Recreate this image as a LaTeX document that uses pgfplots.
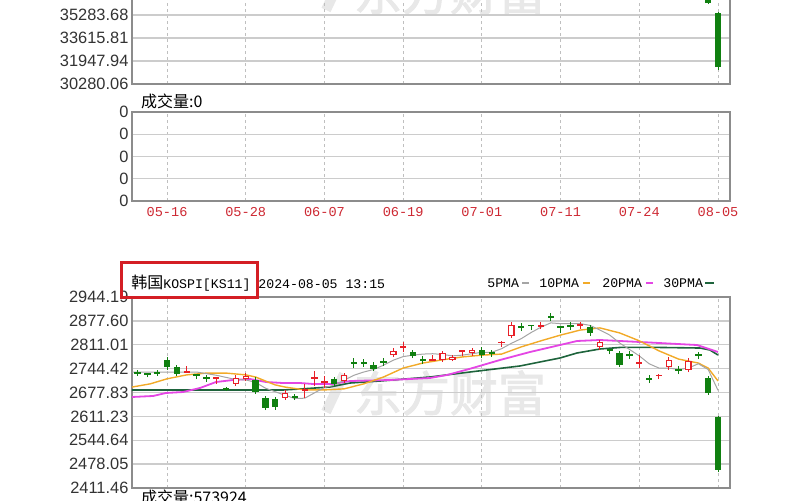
\documentclass[border=0pt]{standalone}
\usepackage{fontspec}
\setmainfont{Liberation Sans}
\newfontfamily\cjk{Noto Sans CJK SC}[AutoFakeBold=2]
\newfontfamily\mono{Liberation Mono}
\usepackage{pgfplots}
\usepackage{pgfplotstable}
\pgfplotsset{compat=1.18}

\definecolor{cup}{RGB}{232,32,40}
\definecolor{cdown}{RGB}{16,128,16}
\definecolor{ma5}{RGB}{165,165,165}
\definecolor{ma10}{RGB}{242,170,40}
\definecolor{ma20}{RGB}{228,70,228}
\definecolor{ma30}{RGB}{30,100,60}
\definecolor{datered}{RGB}{205,40,50}
\definecolor{boxred}{RGB}{212,30,36}
\definecolor{wm}{RGB}{232,232,232}

\pgfplotsset{
  panel/.style={
    scale only axis, width=299pt,
    xmin=-3.56, xmax=57.22,
    xtick={0,8,...,56}, xticklabels={},
    scaled y ticks=false,
    major tick length=0pt,
    axis line style={draw=black!45, line width=0.6pt},
    xmajorgrids, ymajorgrids,
    x grid style={draw=black!25, line width=0.5pt, dash pattern=on 1.5pt off 1.5pt},
    y grid style={draw=black!20, line width=0.7pt},
    yticklabel style={font=\fontsize{8.2}{9}\selectfont, text=black!80, inner sep=0pt, xshift=-1.6pt},
  },
  cbar/.style n args={2}{draw=none, mark=none, forget plot,
    error bars/.cd, y dir=plus, y explicit, error mark=none,
    error bar style={draw=#1, line width=#2, line cap=butt, solid}},
}

% KOSPI daily candles, x = trading day (0 = 05-16)
\pgfplotstableread{
x o h l c
-3 2734 2740 2724 2730
-2 2731 2731 2720 2727
-1 2734 2741 2725 2730
0 2768 2777 2741 2749
1 2749 2754 2724 2729
3 2729 2729 2715 2725
4 2720 2727 2707 2716
6 2690 2693 2682 2686
9 2713 2721 2674 2679
10 2662 2668 2629 2635
11 2660 2665 2630 2637
13 2667 2674 2657 2663
17 2716 2721 2696 2702
19 2762 2774 2746 2758
20 2762 2771 2749 2758
21 2755 2763 2738 2743
22 2765 2774 2752 2761
25 2791 2796 2774 2780
26 2771 2779 2757 2767
32 2796 2805 2774 2782
33 2790 2796 2777 2786
36 2862 2872 2849 2858
37 2867 2867 2852 2863
39 2890 2900 2877 2886
40 2862 2864 2844 2858
41 2865 2874 2852 2861
43 2860 2866 2835 2844
45 2798 2799 2785 2794
46 2788 2794 2749 2755
47 2784 2794 2771 2780
49 2717 2727 2704 2713
52 2742 2752 2729 2738
54 2784 2790 2771 2780
55 2718 2724 2671 2676
56 2610 2612 2456 2462
}\kdown

\pgfplotstableread{
x o h l c
2 2733 2752 2733 2737
5 2716 2721 2702 2720
7 2702 2727 2696 2718
8 2716 2732 2710 2724
12 2663 2685 2657 2677
14 2683 2702 2663 2687
15 2716 2738 2696 2720
16 2705 2724 2691 2709
18 2710 2732 2704 2727
23 2782 2802 2777 2794
24 2803 2819 2791 2807
27 2767 2782 2765 2771
28 2768 2794 2763 2788
29 2768 2782 2765 2777
30 2790 2796 2780 2795
31 2788 2802 2780 2796
34 2816 2821 2805 2820
35 2835 2874 2830 2866
38 2861 2874 2855 2865
42 2864 2874 2855 2868
44 2805 2824 2796 2819
48 2758 2782 2746 2762
50 2724 2729 2715 2728
51 2749 2777 2741 2768
53 2741 2774 2735 2766
}\kup

\pgfplotstableread{
x o h l c
55 37420 37550 36080 36150
56 35430 35480 31300 31510
}\nkdown

\begin{document}
\begin{tikzpicture}

% watermark
\node[text=wm, font=\cjk\bfseries\fontsize{24}{24}\selectfont] at (225pt,53.5pt) {东方财富};
\draw[wm, line width=5pt] (163pt,44pt) -- (172pt,63pt);
\node[text=wm, font=\cjk\bfseries\fontsize{24}{24}\selectfont] at (225pt,254pt) {东方财富};
\draw[wm, line width=5pt] (163pt,245pt) -- (172pt,264pt);

% top price panel (cut off by the page)
\begin{axis}[panel, at={(66pt,208pt)}, anchor=south west, height=95.5pt,
  ymin=30280.06, ymax=44131.4,
  ytick={30280.06,31947.94,33615.81,35283.68},
  yticklabels={30280.06,31947.94,33615.81,35283.68}]
\addplot[cbar={cdown}{0.5pt}] table[x=x, y=l, y error plus expr=\thisrow{h}-\thisrow{l}] {\nkdown};
\addplot[cbar={cdown}{3.2pt}] table[x=x, y=c, y error plus expr=\thisrow{o}-\thisrow{c}] {\nkdown};
\end{axis}

% volume panel
\begin{axis}[panel, at={(66pt,149.5pt)}, anchor=south west, height=44.5pt,
  ymin=0, ymax=4, ytick={0,1,2,3,4}, yticklabels={0,0,0,0,0},
  xticklabels={05-16,05-28,06-07,06-19,07-01,07-11,07-24,08-05},
  xticklabel style={font=\mono\fontsize{6.8}{7}\selectfont, text=datered, inner sep=0pt, yshift=-3pt}]
\end{axis}
\node[anchor=west, font=\cjk\fontsize{8}{9}\selectfont] at (67pt,199.5pt) {成交量:0};

% KOSPI panel
\begin{axis}[panel, at={(66pt,6pt)}, anchor=south west, height=95.5pt,
  ymin=2411.46, ymax=2944.19,
  ytick={2411.46,2478.05,2544.64,2611.23,2677.83,2744.42,2811.01,2877.60,2944.19},
  yticklabels={2411.46,2478.05,2544.64,2611.23,2677.83,2744.42,2811.01,2877.60,2944.19}]

\addplot[ma30, line width=0.8pt] table {
x y
-3.56 2684.8
8.43 2684.8
11.79 2684.8
13.52 2687.6
16.57 2693.2
18.6 2704.3
21.65 2709.9
26.73 2721.1
30.79 2735.0
35.87 2751.8
39.94 2774.1
41.67 2788.0
44.0 2799.2
46.04 2803.5
50.1 2803.5
54.17 2801.9
55.18 2796.4
56 2782.4
};
\addplot[ma20, line width=0.9pt] table {
x y
-3.56 2665.3
-1.42 2668.1
-0.1 2676.5
1.63 2679.2
3.35 2690.4
4.98 2707.1
6.71 2712.7
8.43 2715.5
10.06 2707.1
11.79 2704.3
13.52 2704.3
14.84 2701.6
16.87 2701.6
18.6 2709.9
22.66 2712.7
26.73 2718.3
28.46 2726.7
30.79 2744.0
33.84 2768.5
36.89 2790.8
39.94 2810.3
41.67 2821.5
44.0 2824.3
48.07 2818.7
53.86 2810.3
56 2790.8
};
\addplot[ma10, line width=0.7pt] table {
x y
-3.56 2693
-1.7 2702
0 2716
2 2727
4 2732
6 2732
8 2727
9 2721
10 2710
11 2699
12 2693
14 2685
16 2685
18 2688
20 2702
22 2721
24 2746
26 2760
28 2769
30 2777
32 2782
34 2785
36 2805
38 2822
40 2838
42 2852
44 2858
46 2844
48 2822
50 2794
52 2771
54 2760
55 2746
56 2710
};
\addplot[ma5, line width=0.5pt] table {
x y
-3.56 2735
-1 2735
1 2735
3 2735
5 2726
7 2714
8 2713
9 2706
10 2690
11 2680
12 2670
13 2661
14 2662
15 2677
16 2692
17 2698
18 2712
19 2726
20 2735
21 2742
22 2754
23 2768
24 2778
25 2782
26 2785
27 2786
28 2784
29 2780
30 2782
31 2786
32 2790
33 2790
34 2800
35 2815
36 2828
37 2845
38 2860
39 2872
40 2870
41 2870
42 2870
43 2865
44 2852
45 2838
46 2816
47 2798
48 2780
49 2758
50 2746
51 2746
52 2742
53 2746
54 2758
55 2742
56 2684
};

% down days: filled green
\addplot[cbar={cdown}{0.5pt}] table[x=x, y=l, y error plus expr=\thisrow{h}-\thisrow{l}] {\kdown};
\addplot[cbar={cdown}{3.2pt}] table[x=x, y=c, y error plus expr=\thisrow{o}-\thisrow{c}] {\kdown};
% up days: hollow red
\addplot[cbar={cup}{0.5pt}] table[x=x, y=l, y error plus expr=\thisrow{h}-\thisrow{l}] {\kup};
\addplot[cbar={cup}{3.2pt}] table[x=x, y=o, y error plus expr=\thisrow{c}-\thisrow{o}] {\kup};
\addplot[cbar={white}{2pt}] table[x=x, y expr=\thisrow{o}+3.3, y error plus expr={max(\thisrow{c}-\thisrow{o}-6.6,0)}] {\kup};
\end{axis}

% title line and legend of the KOSPI panel
\node[anchor=west, inner sep=0pt] at (65.5pt,108.5pt)
  {{\cjk\fontsize{8}{9}\selectfont 韩国}{\mono\fontsize{6.6}{8}\selectfont KOSPI[KS11] 2024-08-05 13:15}};
\draw[boxred, line width=1.5pt] (60.5pt,101.5pt) rectangle (128.5pt,119pt);

\begin{scope}[every node/.style={anchor=west, inner sep=0pt, font=\mono\fontsize{6.6}{8}\selectfont}]
\node at (243.5pt,108.5pt) {5PMA};
\draw[ma5, line width=1.2pt] (261pt,108.5pt) -- (264.5pt,108.5pt);
\node at (269.5pt,108.5pt) {10PMA};
\draw[ma10, line width=1.2pt] (291.5pt,108.5pt) -- (295pt,108.5pt);
\node at (301pt,108.5pt) {20PMA};
\draw[ma20, line width=1.2pt] (323pt,108.5pt) -- (326.5pt,108.5pt);
\node at (331.5pt,108.5pt) {30PMA};
\draw[ma30, line width=1.2pt] (352.5pt,108.5pt) -- (357pt,108.5pt);
\end{scope}

\node[anchor=west, font=\cjk\fontsize{8}{9}\selectfont] at (67pt,1.5pt) {成交量:573924};

\pgfresetboundingbox
\path[use as bounding box] (0pt,0pt) rectangle (400pt,250pt);
\end{tikzpicture}
\end{document}
